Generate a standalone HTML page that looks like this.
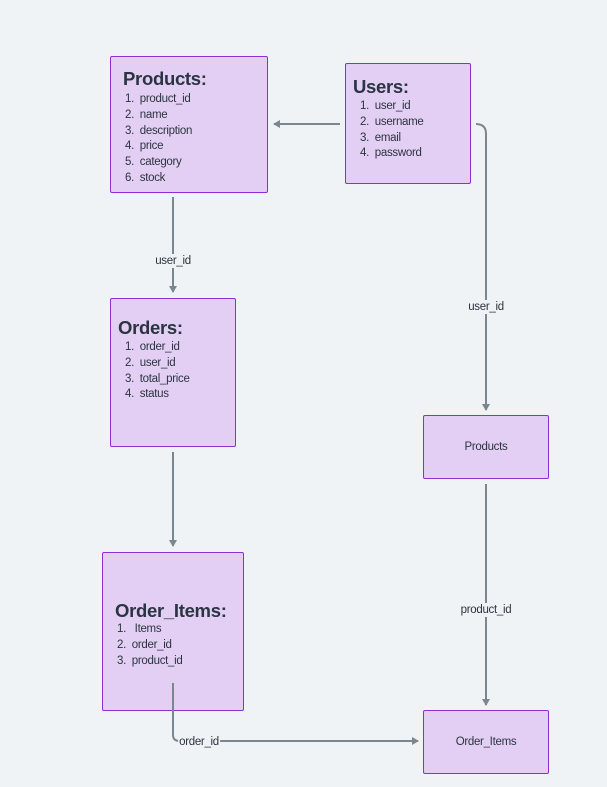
<!DOCTYPE html>
<html><head><style>
body{margin:0;width:607px;height:787px;background:#f0f3f6;font-family:"Liberation Sans",sans-serif;position:relative;overflow:hidden;color:#2c3440}
.b{position:absolute;background:#e3cff4;border:1.7px solid #8a2fd8;border-radius:2px;box-sizing:border-box}
.t{position:absolute;font-weight:bold;font-size:18.5px;color:#2a3442;letter-spacing:-0.3px}
.l{position:absolute;font-size:11.5px;line-height:15.8px;color:#2c3440;white-space:pre;letter-spacing:-0.3px}
.c{position:absolute;font-size:11.5px;color:#2c3440;background:#f0f3f6;transform:translate(-50%,-50%);padding:1px 1px;letter-spacing:-0.3px;z-index:3}
.n{position:absolute;font-size:11.5px;color:#2c3440;display:flex;align-items:center;justify-content:center;letter-spacing:-0.3px}
</style></head><body>
<div class="b" style="left:110px;top:56px;width:158px;height:137px"></div>
<div class="t" style="left:123px;top:68px">Products:</div>
<div class="l" style="left:125px;top:92px">1.  product_id
2.  name
3.  description
4.  price
5.  category
6.  stock</div>

<div class="b" style="left:345px;top:63px;width:126px;height:121px"></div>
<div class="t" style="left:353px;top:76px">Users:</div>
<div class="l" style="left:360px;top:99px">1.  user_id
2.  username
3.  email
4.  password</div>

<div class="b" style="left:110px;top:298px;width:126px;height:149px"></div>
<div class="t" style="left:118px;top:317px">Orders:</div>
<div class="l" style="left:125px;top:340px">1.  order_id
2.  user_id
3.  total_price
4.  status</div>

<div class="b" style="left:102px;top:552px;width:142px;height:159px"></div>
<div class="t" style="left:115px;top:600px">Order_Items:</div>
<div class="l" style="left:117px;top:622px">1.   Items
2.  order_id
3.  product_id</div>

<div class="b n" style="left:423px;top:415px;width:126px;height:64px">Products</div>
<div class="b n" style="left:423px;top:710px;width:126px;height:64px">Order_Items</div>

<svg width="607" height="787" style="position:absolute;left:0;top:0;z-index:2" fill="none" stroke="#7a8791" stroke-width="2">
<defs><marker id="a" markerWidth="8" markerHeight="8" refX="6" refY="4" orient="auto" markerUnits="userSpaceOnUse"><path d="M0,0 L7,4 L0,8Z" fill="#7a8791" stroke="none"/></marker></defs>
<line x1="340" y1="124" x2="274" y2="124" marker-end="url(#a)"/>
<path d="M476,124 Q486,124 486,134 L486,410" marker-end="url(#a)"/>
<line x1="173" y1="197" x2="173" y2="292" marker-end="url(#a)"/>
<line x1="173" y1="452" x2="173" y2="546" marker-end="url(#a)"/>
<line x1="486" y1="484" x2="486" y2="705" marker-end="url(#a)"/>
<path d="M173,683 L173,735 Q173,741 180,741 L418,741" marker-end="url(#a)"/>
</svg>
<div class="c" style="left:173px;top:261px">user_id</div>
<div class="c" style="left:486px;top:307px">user_id</div>
<div class="c" style="left:486px;top:610px">product_id</div>
<div class="c" style="left:199px;top:742px">order_id</div>
</body></html>
